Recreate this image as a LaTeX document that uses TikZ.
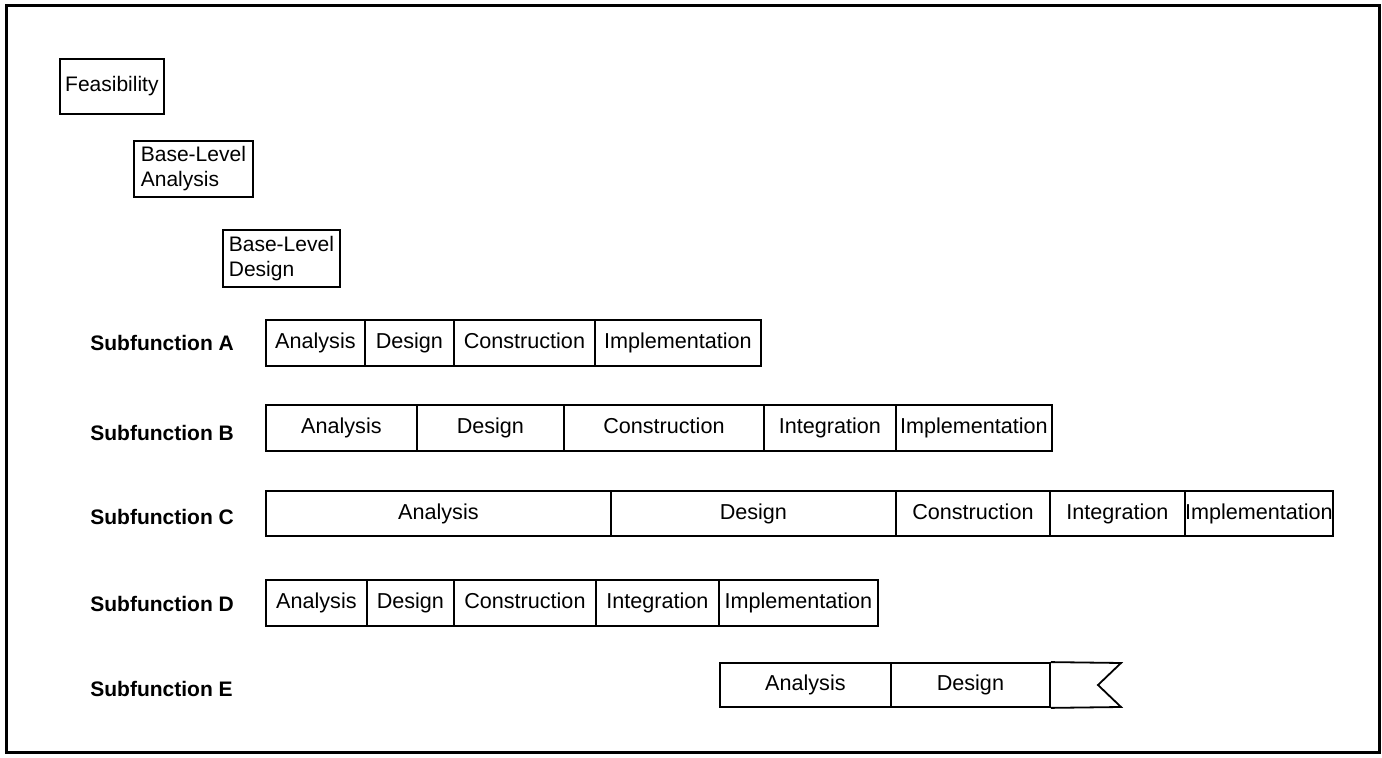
\documentclass[tikz,border=0pt]{standalone}
\usepackage{fontspec}
\setmainfont{Liberation Sans}
\tikzset{
	cell/.style={draw, line width=0.9pt, inner sep=0pt, text height=7.8pt, text depth=2.2pt, anchor=west, font=\fontsize{10.8}{12}\selectfont},
	phase/.style={draw, line width=0.9pt, inner xsep=2.5pt, inner ysep=2pt, align=left, anchor=north west, font=\fontsize{10.5}{12.5}\selectfont},
	rowlabel/.style={anchor=west, inner sep=0pt, font=\fontsize{10.5}{12}\selectfont\bfseries}
}
\begin{document}
\begin{tikzpicture}[x=0.5pt, y=-0.5pt]

		\useasboundingbox (0,0) rectangle (1382,758);
		\draw[line width=1.5pt] (6,6) rectangle (1379,753);

		% phases before the subfunctions
		\node[phase, minimum width=52pt, minimum height=27.5pt] (feas) at (59,58) {Feasibility};
		\node[phase, minimum width=59.5pt, minimum height=28pt] (bla) at (133,140) {Base-Level\\Analysis};
		\node[phase, minimum width=58.5pt, minimum height=28.5pt] (bld) at (222,229) {Base-Level\\Design};

		% row labels
		\node[rowlabel] (la) at (90,343) {Subfunction A};
		\node[rowlabel] (lb) at (90,433) {Subfunction B};
		\node[rowlabel] (lc) at (90,517) {Subfunction C};
		\node[rowlabel] (ld) at (90,604) {Subfunction D};
		\node[rowlabel] (le) at (90,689) {Subfunction E};

		% subfunction A
		\foreach \l/\r/\t [count=\i] in {265/364/Analysis, 364/453/Design, 453/594/Construction, 594/760/Implementation}
			\node[cell, minimum width=(\r-\l)*0.5pt, minimum height=23pt] (a\i) at (\l,343) {\t};

		% subfunction B
		\foreach \l/\r/\t [count=\i] in {265/416/Analysis, 416/563/Design, 563/763/Construction, 763/895/Integration, 895/1051/Implementation}
			\node[cell, minimum width=(\r-\l)*0.5pt, minimum height=23pt] (b\i) at (\l,428) {\t};

		% subfunction C
		\foreach \l/\r/\t [count=\i] in {265/610/Analysis, 610/895/Design, 895/1049/Construction, 1049/1184/Integration, 1184/1332/Implementation}
			\node[cell, minimum width=(\r-\l)*0.5pt, minimum height=22.5pt] (c\i) at (\l,513.5) {\t};

		% subfunction D
		\foreach \l/\r/\t [count=\i] in {265/366/Analysis, 366/453/Design, 453/595/Construction, 595/718/Integration, 718/877/Implementation}
			\node[cell, minimum width=(\r-\l)*0.5pt, minimum height=23pt] (d\i) at (\l,603) {\t};

		% subfunction E
		\foreach \l/\r/\t [count=\i] in {719/890/Analysis, 890/1049/Design}
			\node[cell, minimum width=(\r-\l)*0.5pt, minimum height=22pt] (e\i) at (\l,685) {\t};

		\coordinate (ftop) at (1121,663);
		\coordinate (fnotch) at (1098,685);
		\coordinate (fbot) at (1121,707);
		\draw[line width=0.9pt] (e2.north east) -- (ftop) -- (fnotch) -- (fbot) -- (e2.south east);

	\end{tikzpicture}
\end{document}
